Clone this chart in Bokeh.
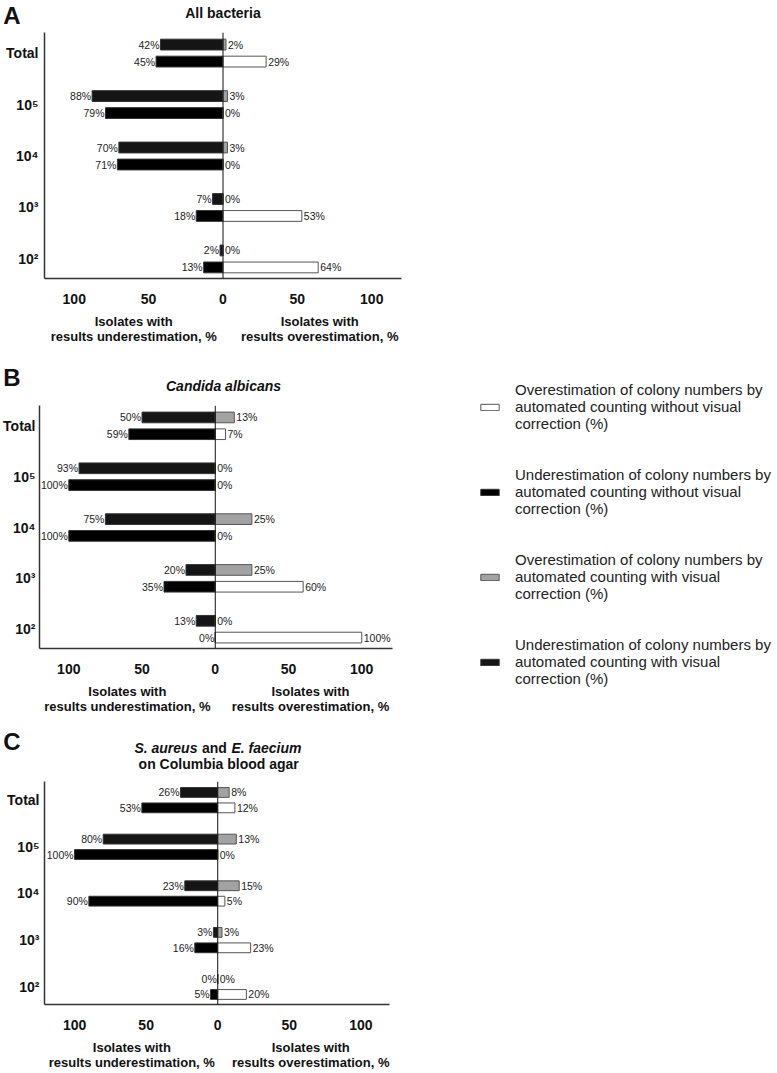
from bokeh.plotting import figure
from bokeh.layouts import column, row
from bokeh.models import (ColumnDataSource, FixedTicker, Span, Legend,
                          LegendItem, Range1d, LinearAxis)
from bokeh.embed import file_html
from bokeh.resources import INLINE
from bokeh.core.properties import value

FONT = "Liberation Sans"

# ---------------- data ----------------
groups = ["10²", "10³", "10⁴", "10⁵", "Total"]          # bottom -> top
x_ticks = [-100, -50, 0, 50, 100]
x_tick_labels = ["100", "50", "0", "50", "100"]
caption_ticks = [-60, 65]
caption_labels = ["Isolates with\nresults underestimation, %",
                  "Isolates with\nresults overestimation, %"]

# Panel A: All bacteria
A_under_with = [2, 7, 70, 88, 42]
A_over_with = [0, 0, 3, 3, 2]
A_under_without = [13, 18, 71, 79, 45]
A_over_without = [64, 53, 0, 0, 29]

# Panel B: Candida albicans
B_under_with = [13, 20, 75, 93, 50]
B_over_with = [0, 25, 25, 0, 13]
B_under_without = [0, 35, 100, 100, 59]
B_over_without = [100, 60, 0, 0, 7]

# Panel C: S. aureus and E. faecium on Columbia blood agar
C_under_with = [0, 3, 23, 80, 26]
C_over_with = [0, 3, 15, 13, 8]
C_under_without = [5, 16, 90, 100, 53]
C_over_without = [20, 23, 5, 0, 12]

title_A = "All bacteria"
title_B = "Candida albicans"
title_C1 = ["S. aureus", "and", "E. faecium"]
title_C2 = "on Columbia blood agar"

legend_labels = [
    "Overestimation of colony numbers by\nautomated counting without visual\ncorrection (%)",
    "Underestimation of colony numbers by\nautomated counting without visual\ncorrection (%)",
    "Overestimation of colony numbers by\nautomated counting with visual\ncorrection (%)",
    "Underestimation of colony numbers by\nautomated counting with visual\ncorrection (%)",
]

# ---------------- styles ----------------
C_UNDER_WITH = "#151515"
C_UNDER_WITHOUT = "#000000"
C_OVER_WITH = "#a2a2a2"
C_OVER_WITHOUT = "#ffffff"
EDGE = "#555555"
UEDGE = "#333333"
TXT = "#111111"
W = 777
YR = (-0.38, 4.4)
PAIR = 0.165
BAR_H = 0.21
# (fill, line) for: over without, under without, over with, under with
SERIES_STYLE = [(C_OVER_WITHOUT, EDGE), (C_UNDER_WITHOUT, UEDGE),
                (C_OVER_WITH, EDGE), (C_UNDER_WITH, UEDGE)]


def style_axis(ax, size, standoff):
    ax.major_tick_line_color = None
    ax.minor_tick_line_color = None
    ax.major_tick_out = 0
    ax.major_tick_in = 0
    ax.minor_tick_out = 0
    ax.minor_tick_in = 0
    ax.major_label_text_font = FONT
    ax.major_label_text_font_style = "bold"
    ax.major_label_text_font_size = size
    ax.major_label_text_color = TXT
    ax.major_label_standoff = standoff


def make_header(letter, width, height, letter_y, letter_gap, left, right, xr, items):
    h = figure(width=width, height=height, x_range=Range1d(*xr), y_range=Range1d(0, height),
               x_axis_location=None, output_backend="svg", toolbar_location=None,
               min_border_left=left, min_border_right=right, min_border_top=0,
               min_border_bottom=0, frame_align=False)
    h.outline_line_color = None
    h.xgrid.visible = False
    h.ygrid.visible = False
    ax = h.yaxis[0]
    ax.ticker = FixedTicker(ticks=[letter_y])
    ax.major_label_overrides = {letter_y: letter}
    ax.axis_line_color = None
    style_axis(ax, "24px", letter_gap)
    for txt, x, xo, y, align, style in items:
        h.text(x=[x], y=[y], text=[txt], x_offset=xo, text_align=align,
               text_baseline="middle", text_font=value(FONT), text_font_style=style,
               text_font_size="14px", text_color=TXT)
    return h


def make_panel(under_with, over_with, under_without, over_without, width, height, top,
               bottom, left, right, xr, ystand):
    idx = list(range(len(groups)))
    src = ColumnDataSource(dict(
        y_top=[i + PAIR for i in idx], y_bot=[i - PAIR for i in idx],
        uw_l=[-v for v in under_with], ow_r=over_with,
        un_l=[-v for v in under_without], on_r=over_without,
        uw_t=[f"{v}%" for v in under_with], ow_t=[f"{v}%" for v in over_with],
        un_t=[f"{v}%" for v in under_without], on_t=[f"{v}%" for v in over_without],
    ))
    p = figure(width=width, height=height, x_range=Range1d(*xr), y_range=Range1d(*YR),
               output_backend="svg", toolbar_location=None, min_border_left=left,
               min_border_right=right, min_border_top=top, min_border_bottom=bottom,
               frame_align=False)
    p.outline_line_color = None
    p.xgrid.visible = False
    p.ygrid.visible = False

    p.hbar(y="y_top", left="uw_l", right=0, height=BAR_H, source=src,
           fill_color=C_UNDER_WITH, line_color=UEDGE, line_width=1)
    p.hbar(y="y_top", left=0, right="ow_r", height=BAR_H, source=src,
           fill_color=C_OVER_WITH, line_color=EDGE, line_width=1)
    p.hbar(y="y_bot", left="un_l", right=0, height=BAR_H, source=src,
           fill_color=C_UNDER_WITHOUT, line_color=UEDGE, line_width=1)
    p.hbar(y="y_bot", left=0, right="on_r", height=BAR_H, source=src,
           fill_color=C_OVER_WITHOUT, line_color=EDGE, line_width=1)

    common = dict(source=src, text_font=value(FONT), text_font_size="10.5px",
                  text_color="#222222", text_baseline="middle")
    p.text(x="uw_l", y="y_top", text="uw_t", x_offset=-1, text_align="right", **common)
    p.text(x="ow_r", y="y_top", text="ow_t", x_offset=2, text_align="left", **common)
    p.text(x="un_l", y="y_bot", text="un_t", x_offset=-1, text_align="right", **common)
    p.text(x="on_r", y="y_bot", text="on_t", x_offset=2, text_align="left", **common)

    p.add_layout(Span(location=0, dimension="height", line_color="#111111", line_width=1))

    xa = p.xaxis[0]
    xa.ticker = FixedTicker(ticks=x_ticks)
    xa.major_label_overrides = {t: l for t, l in zip(x_ticks, x_tick_labels)}
    ya = p.yaxis[0]
    ya.ticker = FixedTicker(ticks=idx)
    ya.major_label_overrides = {i: g for i, g in zip(idx, groups)}
    for ax in (xa, ya):
        ax.axis_line_color = "#333333"
        ax.axis_line_width = 1.5
    style_axis(xa, "14px", 15)
    style_axis(ya, "14px", ystand)

    cap = LinearAxis(ticker=FixedTicker(ticks=caption_ticks),
                     major_label_overrides={t: l for t, l in zip(caption_ticks, caption_labels)},
                     axis_line_color=None)
    style_axis(cap, "13px", 7)
    cap.major_label_text_line_height = 1.0
    p.add_layout(cap, "below")
    return p


XA, XB, XC = (-120, 120), (-120, 121), (-121, 120)
WB = 400
hA = make_header("A", W, 28, 16, 24, 44, 376, XA, [(title_A, 0, 0, 16, "center", "bold")])
pA = make_panel(A_under_with, A_over_with, A_under_without, A_over_without,
                W, 324, 4, 74, 44, 376, XA, 6)
hB = make_header("B", WB, 45, 20, 21, 39, WB - 392, XB,
                 [(title_B, 5, 0, 12, "center", "bold italic")])
pB = make_panel(B_under_with, B_over_with, B_under_without, B_over_without,
                WB, 320, 8, 69, 39, WB - 392, XB, 4)
hC = make_header("C", W, 57, 33, 26, 44, 388, XC,
                 [(title_C1[0], -3, -17, 27, "right", "bold italic"),
                  (title_C1[1], -3, 0, 27, "center", "bold"),
                  (title_C1[2], -3, 17, 27, "left", "bold italic"),
                  (title_C2, 0, 0, 11, "center", "bold")])
pC = make_panel(C_under_with, C_over_with, C_under_without, C_over_without,
                W, 298, 7, 66, 44, 388, XC, 5)

# legend panel beside B: key swatches only (their single placeholder row lies
# outside this figure's range, so only the legend shows)
LW, LH = W - WB, 365
lg = figure(width=LW, height=LH, x_range=Range1d(0, 1), y_range=Range1d(0, 1),
            x_axis_location=None, y_axis_location=None, output_backend="svg",
            toolbar_location=None, min_border_left=0, min_border_right=0,
            min_border_top=0, min_border_bottom=0, frame_align=False)
lg.outline_line_color = None
lg.xgrid.visible = False
lg.ygrid.visible = False
key_src = ColumnDataSource(dict(y=[-5], l=[0], r=[1]))
keys = [lg.hbar(y="y", left="l", right="r", height=0.1, source=key_src,
                fill_color=f, line_color=c, line_width=1) for f, c in SERIES_STYLE]
legend = Legend(items=[LegendItem(label=l, renderers=[r]) for l, r in zip(legend_labels, keys)],
                location=(78, 30), orientation="vertical", glyph_width=23,
                glyph_height=8, label_standoff=14, spacing=34, padding=0, margin=0,
                border_line_color=None, background_fill_alpha=0,
                label_text_font=FONT, label_text_font_size="15px",
                label_text_line_height=1.1, label_text_color="#222222")
lg.add_layout(legend)

layout = column(hA, pA, row(column(hB, pB, spacing=0), lg, spacing=0), hC, pC, spacing=0)
open("out.html", "w").write(file_html(layout, INLINE))
